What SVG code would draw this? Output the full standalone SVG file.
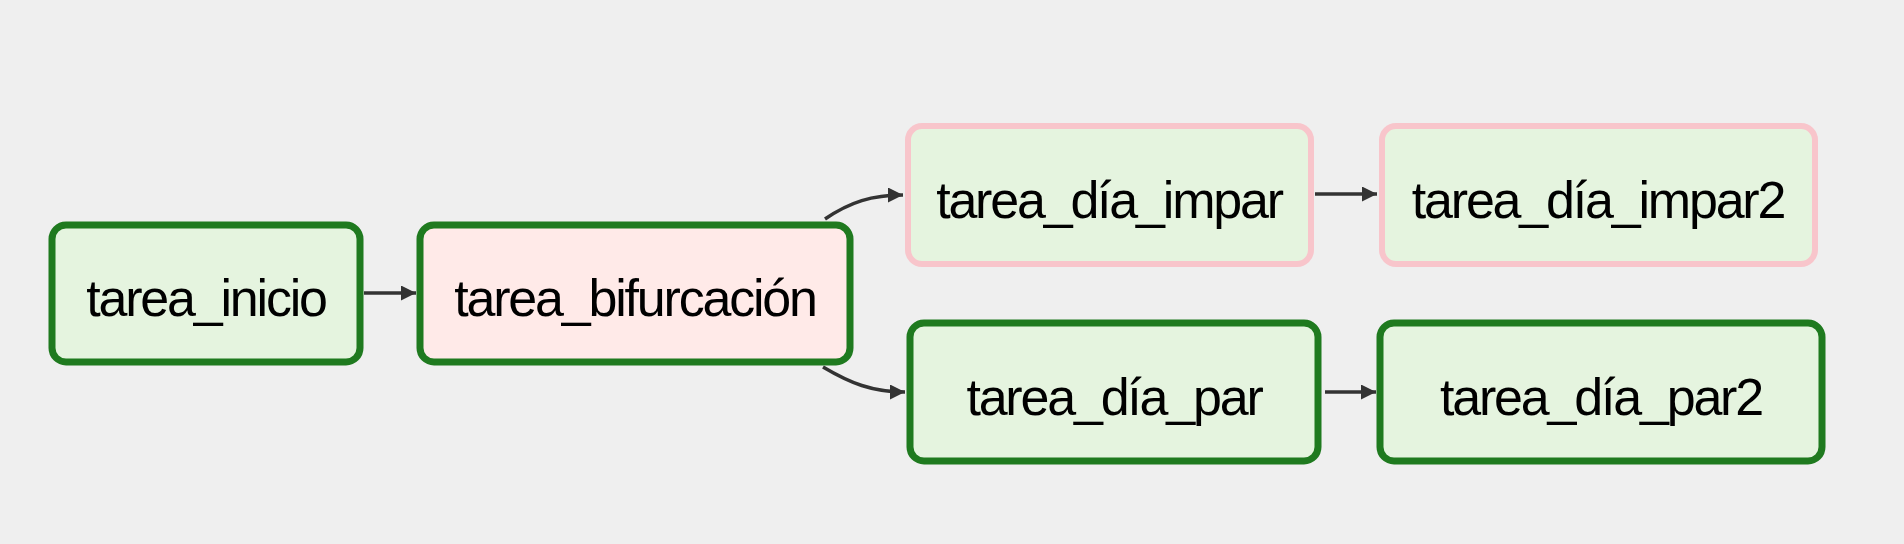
<svg xmlns="http://www.w3.org/2000/svg" width="1904" height="544" viewBox="0 0 1904 544">
<style>
.bg{fill:#efefef}
.ok{fill:#e5f4df;stroke:#1f7a1f;stroke-width:7}
.sk{fill:#e5f4df;stroke:#f8c5cb;stroke-width:6}
.br{fill:#ffeae8;stroke:#1f7a1f;stroke-width:7}
.lbl{font-family:"Liberation Sans",Arial,sans-serif;font-size:52px;fill:#000;text-anchor:middle;letter-spacing:-2.2px}
.edge{fill:none;stroke:#333;stroke-width:3.5}
</style>
<defs>
<marker id="arr" viewBox="0 0 10 10" refX="10" refY="5" markerWidth="15" markerHeight="15" markerUnits="userSpaceOnUse" orient="auto">
<path d="M0,0 L10,5 L0,10 z" fill="#333"/>
</marker>
</defs>
<rect class="bg" x="0" y="0" width="1904" height="544"/>
<g id="connectors">
<path class="edge" d="M364,293 L416,293" marker-end="url(#arr)"/>
<path class="edge" d="M825,219 C850,202 872,195 903,195" marker-end="url(#arr)"/>
<path class="edge" d="M823,367 C850,383 872,392 905,392" marker-end="url(#arr)"/>
<path class="edge" d="M1315,194 L1377,194" marker-end="url(#arr)"/>
<path class="edge" d="M1325,392 L1376,392" marker-end="url(#arr)"/>
</g>
<g id="tarea_inicio">
<rect class="ok" x="52" y="225" width="308" height="137" rx="14"/>
<text class="lbl" x="206" y="316">tarea_inicio</text>
</g>
<g id="tarea_bifurcacion">
<rect class="br" x="420" y="225" width="430" height="137" rx="14"/>
<text class="lbl" x="635" y="316">tarea_bifurcación</text>
</g>
<g id="tarea_dia_impar">
<rect class="sk" x="908" y="126" width="403" height="138" rx="14"/>
<text class="lbl" x="1109" y="218">tarea_día_impar</text>
</g>
<g id="tarea_dia_impar2">
<rect class="sk" x="1382" y="126" width="433" height="138" rx="14"/>
<text class="lbl" x="1598" y="218">tarea_día_impar2</text>
</g>
<g id="tarea_dia_par">
<rect class="ok" x="910" y="323" width="408" height="138" rx="14"/>
<text class="lbl" x="1114" y="415">tarea_día_par</text>
</g>
<g id="tarea_dia_par2">
<rect class="ok" x="1380" y="323" width="442" height="138" rx="14"/>
<text class="lbl" x="1601" y="415">tarea_día_par2</text>
</g>
</svg>
